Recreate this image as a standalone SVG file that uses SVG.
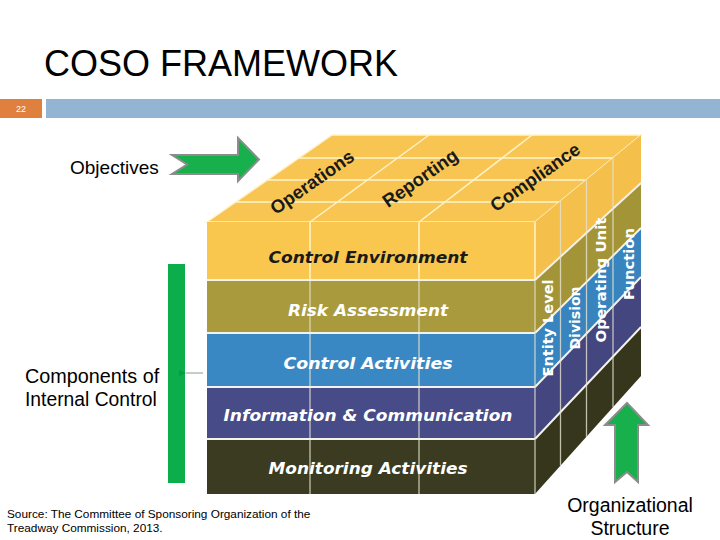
<svg xmlns="http://www.w3.org/2000/svg" width="720" height="540" viewBox="0 0 720 540">
<style>
.t{font-family:"Liberation Sans",Arial,sans-serif;fill:#000}
.lab{font-family:"DejaVu Sans","Liberation Sans",sans-serif;font-weight:bold;font-style:italic;font-size:16px;text-anchor:middle;dominant-baseline:central}
.side{font-family:"DejaVu Sans","Liberation Sans",sans-serif;font-weight:bold;font-size:14px;fill:#fff;text-anchor:middle;dominant-baseline:central}
.top{font-family:"Liberation Sans",Arial,sans-serif;font-weight:bold;font-size:18.5px;fill:#1a1a1a;text-anchor:middle;dominant-baseline:central}
.grid{stroke:#fff3cc;stroke-width:1.5;fill:none}
.gl{stroke:#e6e2cf;stroke-width:1.3;fill:none;opacity:0.8}
.sep{stroke:#f4f2ea;stroke-width:2;fill:none}
.arrow{fill:#17b04d;stroke:#8c8c8c;stroke-width:2;stroke-linejoin:miter}
</style>
<defs>
<marker id="ah" markerWidth="8" markerHeight="8" refX="1" refY="4" orient="auto" markerUnits="userSpaceOnUse">
<path d="M8,1 L1,4 L8,7 Z" fill="#0a9a4a"/>
</marker>
</defs>
<rect width="720" height="540" fill="#fff"/>

<g id="title">
<text class="t" x="44" y="76" font-size="36">COSO FRAMEWORK</text>
</g>
<g id="header">
<rect x="0" y="99" width="42" height="19" fill="#e0803f"/>
<text x="21" y="112" font-family="Liberation Sans, sans-serif" font-size="9" fill="#fff" text-anchor="middle">22</text>
<rect x="46" y="99" width="674" height="19" fill="#93b4d3"/>
</g>

<g id="cube">
<polygon points="207,222 535,222 641,135 332,135" fill="#f8c552"/>
<g class="grid">
<line x1="235.7" y1="202" x2="559.4" y2="202"/>
<line x1="267.3" y1="180" x2="586.2" y2="180"/>
<line x1="299" y1="158" x2="613" y2="158"/>
<line x1="310" y1="222" x2="429" y2="135"/>
<line x1="419" y1="222" x2="532" y2="135"/>
<polygon points="207,222 535,222 641,135 332,135"/>
</g>
<rect x="207" y="222" width="328" height="58" fill="#f9c74e"/>
<rect x="207" y="280" width="328" height="53" fill="#a99b3d"/>
<rect x="207" y="333" width="328" height="54" fill="#3a88c3"/>
<rect x="207" y="387" width="328" height="52" fill="#474b88"/>
<rect x="207" y="439" width="328" height="55" fill="#3a3b20"/>
<polygon points="535,222 641,135 641,183 535,280" fill="#f4bf4a"/>
<polygon points="535,280 641,183 641,228 535,333" fill="#a39537"/>
<polygon points="535,333 641,228 641,277 535,387" fill="#3784be"/>
<polygon points="535,387 641,277 641,327 535,439" fill="#43467f"/>
<polygon points="535,439 641,327 641,376 535,494" fill="#35361c"/>
<line class="grid" x1="310" y1="222" x2="310" y2="280"/>
<line class="grid" x1="419" y1="222" x2="419" y2="280"/>
<line class="gl" x1="310" y1="280" x2="310" y2="494"/>
<line class="gl" x1="419" y1="280" x2="419" y2="494"/>
<g class="sep">
<line x1="207" y1="280" x2="535" y2="280"/>
<line x1="207" y1="333" x2="535" y2="333"/>
<line x1="207" y1="387" x2="535" y2="387"/>
<line x1="207" y1="439" x2="535" y2="439"/>
<line x1="535" y1="280" x2="641" y2="183"/>
<line x1="535" y1="333" x2="641" y2="228"/>
<line x1="535" y1="387" x2="641" y2="277"/>
<line x1="535" y1="439" x2="641" y2="327"/>
</g>
<line class="grid" x1="535" y1="222" x2="535" y2="280"/>
<line class="gl" x1="535" y1="280" x2="535" y2="494"/>
<line class="gl" x1="560.5" y1="201" x2="560.5" y2="465.6"/>
<line class="gl" x1="586.5" y1="179.7" x2="586.5" y2="436.7"/>
<line class="gl" x1="613" y1="158" x2="613" y2="407.2"/>
<text class="top" transform="translate(312,182) rotate(-35)">Operations</text>
<text class="top" transform="translate(420,178) rotate(-35)">Reporting</text>
<text class="top" transform="translate(535,177) rotate(-35)">Compliance</text>
<text class="lab" x="368" y="257" fill="#1a1a1a" textLength="199" lengthAdjust="spacingAndGlyphs">Control Environment</text>
<text class="lab" x="368" y="310" fill="#fff" textLength="160" lengthAdjust="spacingAndGlyphs">Risk Assessment</text>
<text class="lab" x="368" y="363" fill="#fff" textLength="169" lengthAdjust="spacingAndGlyphs">Control Activities</text>
<text class="lab" x="368" y="415" fill="#fff" textLength="289" lengthAdjust="spacingAndGlyphs">Information &amp; Communication</text>
<text class="lab" x="368" y="468" fill="#fff" textLength="199" lengthAdjust="spacingAndGlyphs">Monitoring Activities</text>
<text class="side" transform="translate(548,328) rotate(-90)" textLength="97" lengthAdjust="spacingAndGlyphs">Entity Level</text>
<text class="side" transform="translate(575,318) rotate(-90)" textLength="63" lengthAdjust="spacingAndGlyphs">Division</text>
<text class="side" transform="translate(601,280) rotate(-90)" textLength="125" lengthAdjust="spacingAndGlyphs">Operating Unit</text>
<text class="side" transform="translate(629,264) rotate(-90)" textLength="72" lengthAdjust="spacingAndGlyphs">Function</text>
</g>

<g id="objectives">
<text class="t" x="70" y="174" font-size="19">Objectives</text>
<polygon class="arrow" points="172,155 238,155 238,138 259,159.5 238,181 238,174 172,174 187,164.5"/>
</g>

<g id="components">
<text class="t" x="25" y="383" font-size="19.8">Components of</text>
<text class="t" x="25" y="406" font-size="19.3">Internal Control</text>
<rect x="168" y="264" width="17" height="219" fill="#0cae4c"/>
</g>

<g id="orgstructure">
<polygon class="arrow" points="627,403 648,425 638,425 638,482 627,472 615,482 615,425 605,425"/>
<text class="t" x="630" y="512" font-size="19.5" text-anchor="middle">Organizational</text>
<text class="t" x="630" y="535" font-size="19.5" text-anchor="middle">Structure</text>
</g>

<g id="source">
<text class="t" x="7" y="518" font-size="11.8">Source: The Committee of Sponsoring Organization of the</text>
<text class="t" x="7" y="532" font-size="11.8">Treadway Commission, 2013.</text>
</g>

<g id="connectors">
<line x1="203" y1="373" x2="186" y2="373" stroke="#8a9a9a" stroke-width="1" marker-end="url(#ah)"/>
</g>
</svg>
